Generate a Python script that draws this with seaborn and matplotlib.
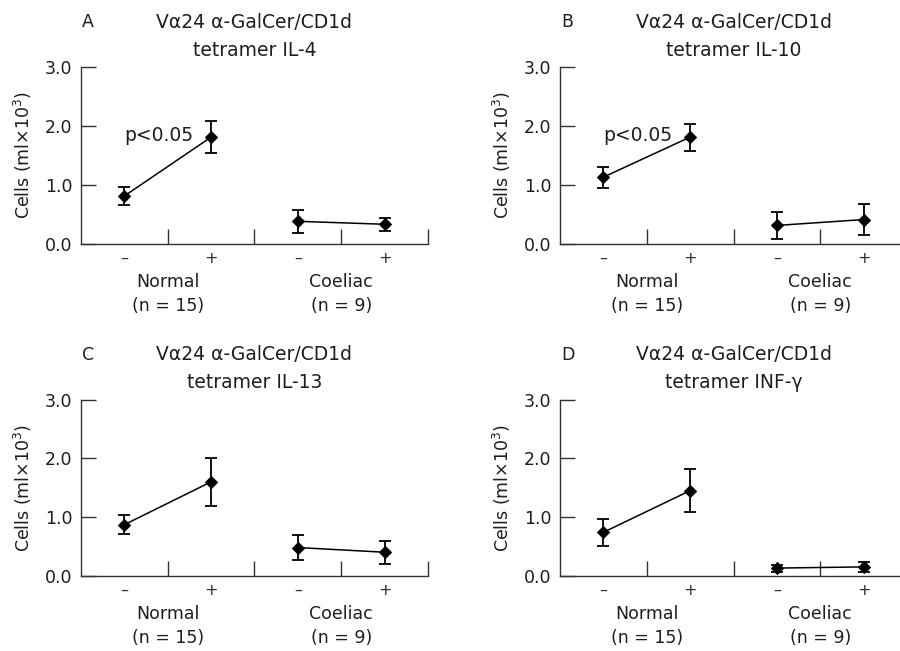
import numpy as np
import pandas as pd
import matplotlib
matplotlib.use("Agg")
import matplotlib.pyplot as plt
from matplotlib.transforms import blended_transform_factory
import seaborn as sns

# Group / stimulation categories
groups = ["Normal", "Coeliac"]
group_labels = ["Normal\n(n = 15)", "Coeliac\n(n = 9)"]
conditions = ["\u2013", "+"]

panel_letters = ["A", "B", "C", "D"]
cytokines = ["IL-4", "IL-10", "IL-13", "INF-\u03b3"]

# Mean cell counts (ml x 10^3): [Normal -, Normal +, Coeliac -, Coeliac +]
means_il4 = [0.81, 1.81, 0.38, 0.33]
means_il10 = [1.13, 1.81, 0.31, 0.41]
means_il13 = [0.87, 1.60, 0.48, 0.40]
means_infg = [0.74, 1.45, 0.13, 0.15]

# Standard errors for the same points
sem_il4 = [0.15, 0.27, 0.19, 0.11]
sem_il10 = [0.18, 0.23, 0.23, 0.27]
sem_il13 = [0.16, 0.41, 0.21, 0.20]
sem_infg = [0.23, 0.37, 0.06, 0.08]

# Significance annotation per panel
p_notes = ["p<0.05", "p<0.05", None, None]

all_means = [means_il4, means_il10, means_il13, means_infg]
all_sems = [sem_il4, sem_il10, sem_il13, sem_infg]

sns.set_theme(style="ticks")
plt.rcParams["font.family"] = ["DejaVu Sans"]
plt.rcParams["axes.linewidth"] = 1.0
FS = 12.5
FS_TITLE = 13.5
TXT = "#1e1e1e"
AXC = "#333333"

fig = plt.figure(figsize=(9.0, 6.51), dpi=100)
W, H = 900.0, 651.0
# axes boxes in pixels: (left, bottom-from-top, width, height)
boxes = [(81, 243.7, 347, 176.7), (560, 243.7, 347, 176.7),
         (81, 575.7, 347, 176.0), (560, 575.7, 347, 176.0)]

for i in range(4):
    l, b, w, h = boxes[i]
    ax = fig.add_axes([l / W, (H - b) / H, w / W, h / H])

    rows = []
    for gi, g in enumerate(groups):
        for ci, c in enumerate(conditions):
            k = gi * 2 + ci
            rows.append({"group": g, "cond": c, "pos": k + 0.5,
                         "cells": all_means[i][k], "sem": all_sems[i][k]})
    df = pd.DataFrame(rows)

    sns.lineplot(data=df, x="pos", y="cells", hue="group",
                 palette=["black", "black"], marker="D", markersize=6,
                 markeredgecolor="black", linewidth=1.1, legend=False,
                 ax=ax, zorder=3)
    ax.errorbar(df["pos"], df["cells"], yerr=df["sem"], fmt="none",
                ecolor="black", elinewidth=1.3, capsize=4.5, capthick=1.3,
                zorder=2)

    ax.set_xlim(0, 4)
    ax.set_ylim(0, 3.0)
    ax.set_yticks([0, 1, 2, 3])
    ax.set_yticklabels(["0.0", "1.0", "2.0", "3.0"], fontsize=FS)
    ax.set_xticks([1, 2, 3, 4])
    ax.set_xticklabels([])
    ax.set_xticks(df["pos"], minor=True)
    ax.set_xticklabels(df["cond"], minor=True, fontsize=11.5)
    ax.tick_params(axis="x", which="major", direction="in", length=10.5,
                   width=1.0, color=AXC)
    ax.tick_params(axis="x", which="minor", length=0, pad=5, labelcolor="#333333")
    ax.tick_params(axis="y", direction="in", length=10.5, width=1.0,
                   pad=6, colors=AXC, labelcolor=TXT)
    for s in ["top", "right"]:
        ax.spines[s].set_visible(False)
    ax.spines["left"].set_color(AXC)
    ax.spines["bottom"].set_color(AXC)

    ax.set_xlabel("")
    ax.set_ylabel("Cells (ml$\\times$10$^{3}$)", fontsize=FS, color=TXT)
    ax.yaxis.label.set_va("center")
    ax.yaxis.set_label_coords(-58 / w, 0.5)

    trans = blended_transform_factory(ax.transData, ax.transAxes)
    for gi, gl in enumerate(group_labels):
        ax.text(gi * 2 + 1, -29 / h, gl, transform=trans, ha="center",
                va="top", fontsize=FS, linespacing=1.45, color=TXT)

    # two-line panel heading and panel letter
    ax.text(0.5, 1.0 + 45 / h, "V\u03b124 \u03b1-GalCer/CD1d",
            transform=ax.transAxes, ha="center", va="center",
            fontsize=FS_TITLE, color=TXT)
    ax.text(0.5, 1.0 + 17 / h, "tetramer " + cytokines[i],
            transform=ax.transAxes, ha="center", va="center",
            fontsize=FS_TITLE, color=TXT)
    ax.text(1 / w, 1.0 + 45 / h, panel_letters[i], transform=ax.transAxes,
            ha="left", va="center", fontsize=FS, color=TXT)

    if p_notes[i]:
        ax.text(0.5, 1.74, p_notes[i], ha="left", va="baseline",
                fontsize=FS_TITLE, color=TXT)

fig.savefig("out.png", dpi=100, facecolor="white")
